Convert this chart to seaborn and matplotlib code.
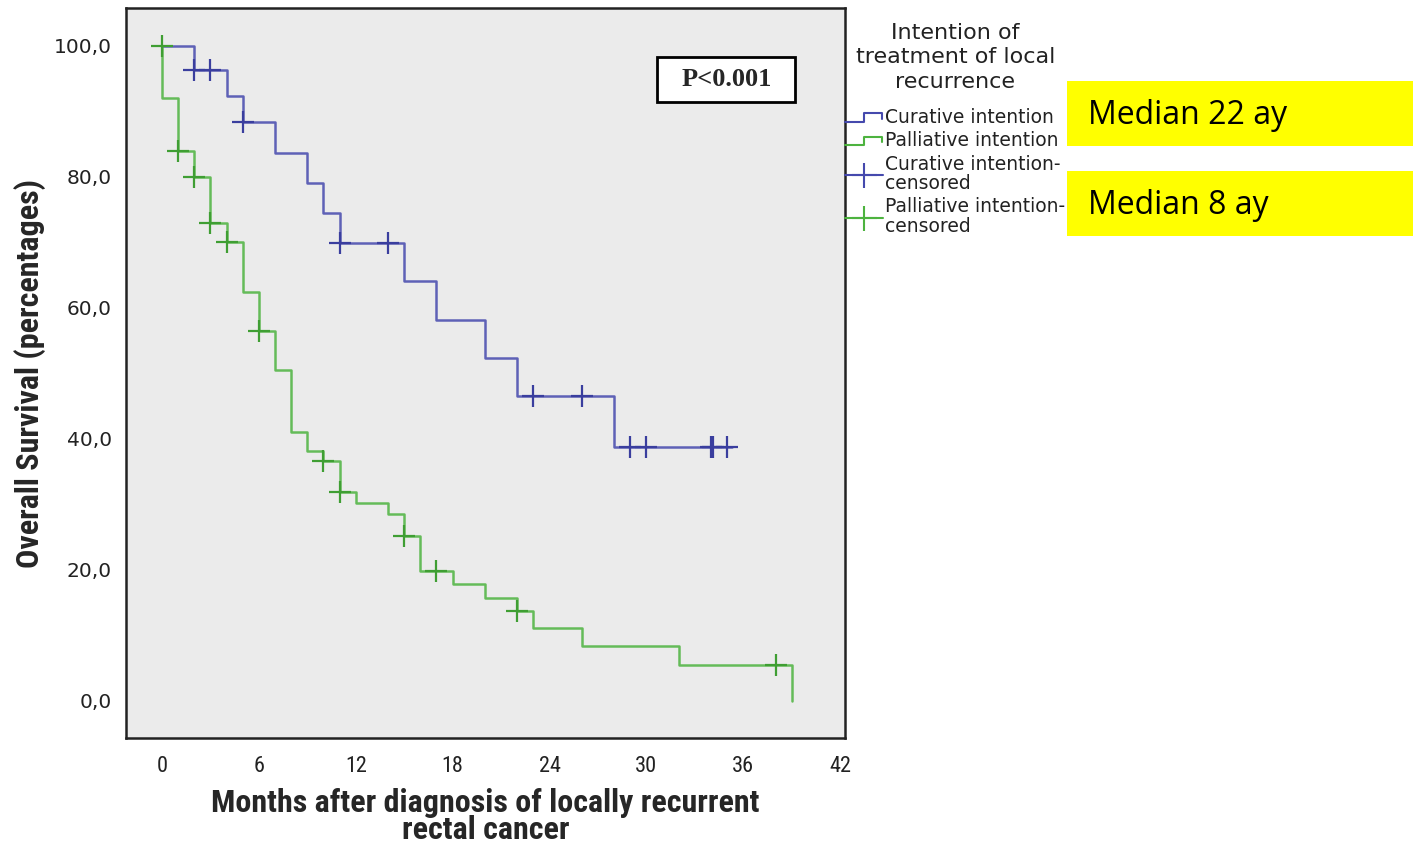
import numpy as np
import matplotlib
matplotlib.use('Agg')
import matplotlib.pyplot as plt
from matplotlib import font_manager
from matplotlib.lines import Line2D
from matplotlib.patches import Rectangle
from matplotlib.legend_handler import HandlerBase
import seaborn as sns

# Kaplan-Meier steps (months, survival %)
cur_t = [0, 2, 4, 5, 7, 9, 10, 11, 15, 17, 20, 22, 28, 35.3]
cur_s = [100, 96.3, 92.4, 88.4, 83.7, 79.1, 74.5, 69.9, 64.1, 58.2, 52.3, 46.6, 38.8, 38.8]
cur_cens_t = [2, 3, 5, 11, 14, 23, 26, 29, 30, 34, 34.1, 35]
cur_cens_s = [96.3, 96.3, 88.4, 69.9, 69.9, 46.6, 46.6, 38.8, 38.8, 38.8, 38.8, 38.8]

pal_t = [0, 0, 1, 2, 3, 4, 5, 6, 7, 8, 9, 10, 11, 12, 14, 15, 16, 18, 20, 22, 23, 26, 32, 39]
pal_s = [100, 92.1, 84.0, 80.0, 72.9, 70.0, 62.5, 56.5, 50.5, 41.1, 38.1, 36.6, 31.9, 30.3,
         28.6, 25.2, 19.8, 17.9, 15.8, 13.8, 11.1, 8.4, 5.5, 0]
pal_cens_t = [0, 1, 2, 3, 4, 6, 10, 11, 15, 17, 22, 38]
pal_cens_s = [100, 84.0, 80.0, 72.9, 70.0, 56.5, 36.6, 31.9, 25.2, 19.8, 13.8, 5.5]

x_ticks = [0, 6, 12, 18, 24, 30, 36, 42]
y_ticks = [0, 20, 40, 60, 80, 100]
y_tick_labels = ['0,0', '20,0', '40,0', '60,0', '80,0', '100,0']

legend_labels = ['Curative intention', 'Palliative intention',
                 'Curative intention-\ncensored', 'Palliative intention-\ncensored']
medians = ['Median 22 ay', 'Median 8 ay']

blue = '#4549ad'
green = '#4db33f'

sns.set_style('white', {'axes.facecolor': '#ebebeb'})

# look for a condensed face, fall back to plain DejaVu Sans
names = {f.name for f in font_manager.fontManager.ttflist}
narrow = 'DejaVu Sans'
for cand in ['Liberation Sans Narrow', 'DejaVu Sans Condensed', 'Roboto Condensed']:
    if cand in names:
        narrow = cand
        break

fig = plt.figure(figsize=(14.13, 8.46), dpi=100)
ax = fig.add_axes([126 / 1413, 1 - 738 / 846, (845 - 126) / 1413, (738 - 8) / 846])

sns.lineplot(x=cur_t, y=cur_s, drawstyle='steps-post', estimator=None, sort=False,
             color=blue, lw=1.8, alpha=0.85, ax=ax)
sns.lineplot(x=pal_t, y=pal_s, drawstyle='steps-post', estimator=None, sort=False,
             color=green, lw=1.8, alpha=0.85, ax=ax)
sns.scatterplot(x=cur_cens_t, y=cur_cens_s, marker='+', s=230, linewidth=1.6,
                color='#3a3e9e', ax=ax, zorder=4)
sns.scatterplot(x=pal_cens_t, y=pal_cens_s, marker='+', s=230, linewidth=1.6,
                color='#3f9e33', ax=ax, zorder=4)

ax.set_xlim(-2.23, 42.3)
ax.set_ylim(-5.65, 105.8)
ax.set_xticks(x_ticks)
ax.set_xticklabels([str(v) for v in x_ticks], family=narrow, fontstretch='condensed',
                   fontsize=16, color='#222222')
ax.set_yticks(y_ticks)
ax.set_yticklabels(y_tick_labels, fontsize=14.5, color='#222222')
ax.tick_params(axis='both', direction='out', length=7, width=1.6, color='#222222', pad=3)
ax.tick_params(axis='x', pad=6)
for sp in ax.spines.values():
    sp.set_color('#222222')
    sp.set_linewidth(1.8)

ax.set_xlabel('Months after diagnosis of locally recurrent\nrectal cancer', family=narrow,
              fontstretch='condensed', fontsize=23, fontweight='bold', linespacing=0.88,
              labelpad=8)
ax.set_ylabel('Overall Survival (percentages)', family=narrow, fontstretch='condensed',
              fontsize=23, fontweight='bold', labelpad=6)

# p-value box
ax.add_patch(Rectangle((30.67, 91.45), 8.55, 6.85, facecolor='white', edgecolor='black',
                       lw=2, zorder=5))
ax.text(34.95, 94.9, 'P<0.001', family=['Liberation Serif', 'DejaVu Serif'],
        fontweight='bold', fontsize=19, ha='center', va='center', zorder=6)


class StepHandler(HandlerBase):
    def create_artists(self, legend, orig_handle, xdescent, ydescent, width, height,
                       fontsize, trans):
        y0 = -ydescent + height * 0.1
        y1 = -ydescent + height * 0.75
        xs = [-xdescent, -xdescent + width * 0.5, -xdescent + width * 0.5,
              -xdescent + width * 0.95, -xdescent + width * 0.95]
        ys = [y0, y0, y1, y1, y0 + height * 0.25]
        ln = Line2D(xs, ys, color=orig_handle.get_color(), lw=1.5, transform=trans)
        return [ln]


h1 = Line2D([], [], color=blue)
h2 = Line2D([], [], color=green)
h3 = Line2D([], [], color=blue, marker='+', markersize=18, mew=1.5, lw=1.5)
h4 = Line2D([], [], color=green, marker='+', markersize=18, mew=1.5, lw=1.5)
leg = ax.legend([h1, h2, h3, h4], legend_labels,
                handler_map={h1: StepHandler(), h2: StepHandler()},
                title='Intention of\ntreatment of local\nrecurrence',
                loc='upper left', bbox_to_anchor=(845 / 1413, 1 - 23 / 846),
                bbox_transform=fig.transFigure, frameon=False, fontsize=13.5,
                title_fontsize=16, handlelength=2.05, handletextpad=0.1,
                labelspacing=0.22, borderpad=0, borderaxespad=0, alignment='center')
for t in leg.get_texts():
    t.set_color('#222222')
    t.set_linespacing(1.05)
leg.get_title().set_color('#222222')
leg.get_title().set_linespacing(1.27)
leg.get_title().set_multialignment('center')
leg._legend_box.sep = 12

# yellow median boxes
for i, txt in enumerate(medians):
    top = [81, 171][i]
    fig.add_artist(Rectangle((1067 / 1413, 1 - (top + 65) / 846), 346 / 1413, 65 / 846,
                             transform=fig.transFigure, facecolor='#ffff00',
                             edgecolor='none', zorder=10))
    fig.text(1088 / 1413, 1 - (top + 34) / 846, txt, family=['Open Sans', 'DejaVu Sans'],
             fontsize=23, va='center', ha='left', color='black', zorder=11)

fig.savefig('out.png', dpi=100, facecolor='white')
